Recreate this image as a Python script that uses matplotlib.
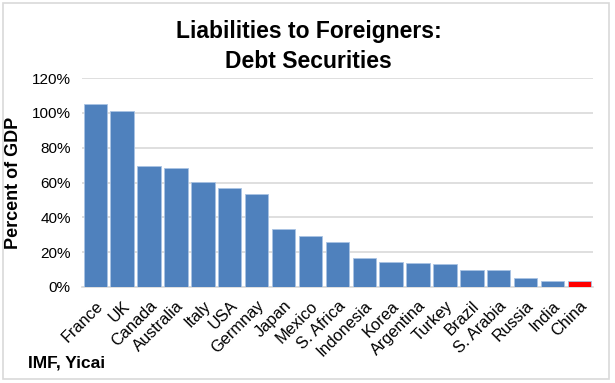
import matplotlib
matplotlib.use("Agg")
import matplotlib.pyplot as plt
from matplotlib.ticker import FuncFormatter, MultipleLocator
from matplotlib.patches import Rectangle

countries = ["France", "UK", "Canada", "Australia", "Italy", "USA", "Germnay", "Japan",
             "Mexico", "S. Africa", "Indonesia", "Korea", "Argentina", "Turkey", "Brazil",
             "S. Arabia", "Russia", "India", "China"]
values = [105.0, 101.0, 69.4, 68.5, 60.4, 57.0, 53.5, 33.3, 29.4, 25.8, 16.9, 14.6,
          14.0, 13.4, 10.0, 9.6, 5.0, 3.6, 3.3]
highlight = "China"

plt.rcParams['font.family'] = ['Liberation Sans', 'DejaVu Sans']

fig = plt.figure(figsize=(6.15, 3.83), dpi=100)
ax = fig.add_axes([0.133, 0.2507, 0.831, 0.5455])

colors = ["#FF0000" if c == highlight else "#4F81BD" for c in countries]
ax.bar(range(len(countries)), [v / 100 for v in values], width=0.87, color=colors,
       edgecolor="#A9C3E3", linewidth=0.6, zorder=3)

ax.set_ylim(0, 1.2)
ax.set_xlim(-0.5, len(countries) - 0.5)
ax.yaxis.set_major_locator(MultipleLocator(0.2))
ax.yaxis.set_major_formatter(FuncFormatter(lambda v, p: f"{v*100:.0f}%"))
ax.grid(axis="y", color="#D9D9D9", linewidth=1.2, zorder=0)
for s in ["top", "right", "left"]:
    ax.spines[s].set_visible(False)
ax.spines["bottom"].set_color("#D9D9D9")
ax.spines["bottom"].set_linewidth(1.2)
ax.tick_params(axis="both", length=0, labelsize=11, colors="black")
ax.tick_params(axis="y", pad=8)
ax.set_xticks(range(len(countries)))
ax.set_xticklabels(countries, rotation=45, ha="right", rotation_mode="anchor", fontsize=11.8)
ax.tick_params(axis="x", pad=8)

ax.set_ylabel("Percent of GDP", fontsize=13, fontweight="bold", labelpad=7)

fig.text(0.502, 0.879, "Liabilities to Foreigners:\nDebt Securities", ha="center", va="center",
         fontsize=16.5, fontweight="bold", linespacing=1.4)
fig.text(0.046, 0.053, "IMF, Yicai", ha="left", va="center", fontsize=12.5, fontweight="bold")

fig.patches.append(Rectangle((3 / 615, 4 / 383), 606 / 615, 376 / 383, transform=fig.transFigure,
                             fill=False, edgecolor="#D9D9D9", linewidth=1.2))

fig.savefig("out.png", dpi=100)
